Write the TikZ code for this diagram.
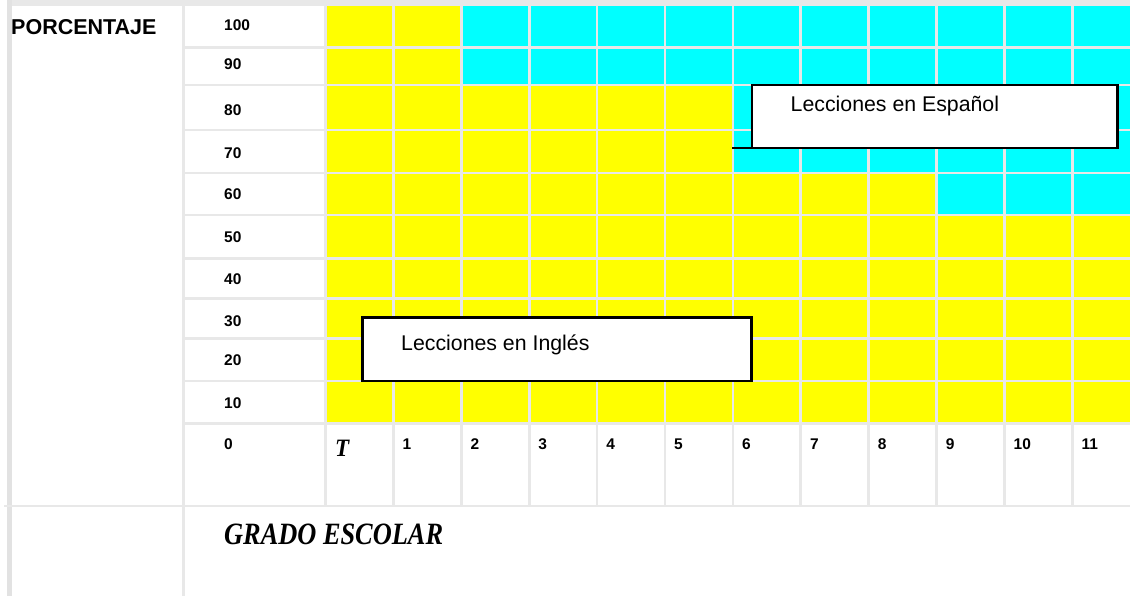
\documentclass[tikz,border=0pt]{standalone}
\usepackage{fontspec}
\setmainfont{Liberation Sans}
\newfontfamily\gradofont{Liberation Serif}
\usepackage{graphicx}
\usepackage{xcolor}
\definecolor{cellyellow}{HTML}{FFFF00}
\definecolor{cellcyan}{HTML}{00FFFF}
\definecolor{gridgray}{HTML}{E8E8E8}
\definecolor{bordergray}{HTML}{E2E2E2}

\tikzset{
  gridline/.style={gridgray, line width=2.7pt},
  pctlabel/.style={anchor=base west, inner sep=0pt, font=\fontsize{15.5}{18}\selectfont\bfseries},
  lessonbox/.style={draw=black, fill=white, line width=2.5pt, rectangle, anchor=north west, inner sep=0pt, outer sep=0pt},
  lessontext/.style={anchor=base west, inner sep=0pt, font=\fontsize{21.3}{25}\selectfont},
  serifbi/.style={anchor=base west, inner sep=0pt}
}

\begin{document}
\begin{tikzpicture}[x=1pt, y=-1pt]
    \useasboundingbox (0,0) rectangle (1130,596);
    \clip (0,0) rectangle (1130,596);

    % Fill cells
    \fill[cellyellow] (325.5,4) rectangle (1140,423.3);
    \fill[cellcyan] (460.8,4) rectangle (1140,85);
    \fill[cellcyan] (732.4,85) rectangle (1140,173);
    \fill[cellcyan] (936.1,173) rectangle (1140,215);

    % Draw grid
    \draw[gridgray, line width=6pt] (7,3) -- (1140,3);
    \draw[bordergray, line width=4.5pt] (9.5,0) -- (9.5,596);
    \draw[gridline] (183.5,3) -- (183.5,596);
    \foreach \k in {0,...,11}
        \draw[gridline] ({325.5+67.9*\k},3) -- ({325.5+67.9*\k},506);
    \foreach \y in {47.7,85,130,173,215,258.3,298.3,338.3,381,423.3}
        \draw[gridline] (183.5,\y) -- (1140,\y);
    \draw[gridline] (4,506) -- (1140,506);

    % Axis titles
    \node[anchor=base west, inner sep=0pt, font=\fontsize{21.5}{26}\selectfont\bfseries] (pcttitle) at (11,35) {PORCENTAJE};
    \node[serifbi, font=\gradofont\fontsize{31}{36}\selectfont\bfseries\itshape] (gradetitle) at (224,544) {\scalebox{0.85}[1]{GRADO ESCOLAR}};

    % Percentage labels
    \foreach \p/\yb in {100/30.7, 90/70, 80/116, 70/159, 60/200, 50/242.3, 40/284.3, 30/326, 20/365.7, 10/408, 0/449}
        \node[pctlabel] (p\p) at (224,\yb) {\p};

    % Grade labels
    \node[serifbi, font=\gradofont\fontsize{25}{30}\selectfont\bfseries\itshape] (gT) at (335,456.7) {\scalebox{0.92}[1]{T}};
    \foreach \g in {1,...,11}
        \node[pctlabel] (g\g) at ({325.5+67.9*\g+9},449) {\g};

    % Lesson boxes
    \node[lessonbox, minimum width=365.7pt, minimum height=63pt] (espbox) at (752,85) {};
    \coordinate (espcut) at (732,148);
    \draw[line width=2.5pt] (espbox.south west) -- (espcut);
    \node[lessontext] (esptext) at (790.5,111.7) {Lecciones en Español};

    \node[lessonbox, minimum width=389.4pt, minimum height=63.5pt] (ingbox) at (362.3,317.3) {};
    \node[lessontext] (ingtext) at (401,350.7) {Lecciones en Inglés};
\end{tikzpicture}
\end{document}
